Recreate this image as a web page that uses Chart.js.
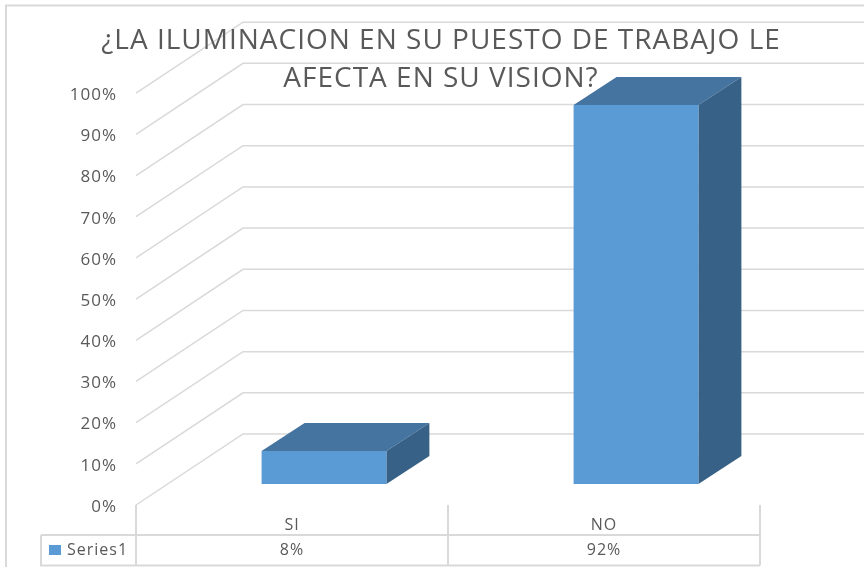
<!DOCTYPE html>
<html>
<head>
<meta charset="utf-8">
<style>html,body{margin:0;padding:0;background:#fff}canvas{display:block}</style>
<script src="https://cdn.jsdelivr.net/npm/chart.js@4"></script>
</head>
<body>
<canvas id="c" width="864" height="567"></canvas>
<script>
const titleLines = ['¿LA ILUMINACION EN SU PUESTO DE TRABAJO LE', 'AFECTA EN SU VISION?'];
const categories = ['SI', 'NO'];
const seriesName = 'Series1';
const values = [8, 92];

const FONT = '"Open Sans", sans-serif';
const TEXT = '#595959', GRID = '#d9d9d9';
const FRONT = '#5b9bd5', TOP = '#44749f', SIDE = '#376187';
const WALL = {dx: 107, dy: -71};
const BAR_SHIFT = {dx: 32, dy: -21};
const BAR_DEPTH = {dx: 43, dy: -28};

function line(ctx, pts, w) {
  ctx.beginPath();
  pts.forEach((p, i) => i ? ctx.lineTo(p[0], p[1]) : ctx.moveTo(p[0], p[1]));
  ctx.lineWidth = w; ctx.strokeStyle = GRID; ctx.stroke();
}
function poly(ctx, pts, fill) {
  ctx.beginPath();
  pts.forEach((p, i) => i ? ctx.lineTo(p[0], p[1]) : ctx.moveTo(p[0], p[1]));
  ctx.closePath(); ctx.fillStyle = fill; ctx.fill();
}

const chart3d = {
  id: 'chart3d',
  afterLayout(chart) {
    chart.titleBlock.left = 41;
    chart.titleBlock.right = 841;
    chart.titleBlock.top += 5;
  },
  beforeDraw(chart) {
    const ctx = chart.ctx, y = chart.scales.y, x = chart.scales.x, a = chart.chartArea;
    ctx.letterSpacing = '1px';
    ctx.save();
    line(ctx, [[6, 567], [6, 5.5], [864, 5.5]], 2);
    y.ticks.forEach(t => {
      const py = y.getPixelForValue(t.value);
      line(ctx, [[a.left, py], [a.left + WALL.dx, py + WALL.dy], [864, py + WALL.dy]], 1.5);
    });
    // data table
    const top = a.bottom, mid = 535, bot = 565.5;
    line(ctx, [[41, mid], [a.right, mid]], 2);
    line(ctx, [[41, mid], [41, bot], [a.right, bot]], 2);
    line(ctx, [[a.left, top], [a.left, bot]], 2);
    categories.forEach((c, i) => {
      const px = x.getPixelForValue(i) + (x.getPixelForValue(1) - x.getPixelForValue(0)) / 2;
      line(ctx, [[px, top], [px, bot]], 2);
    });
    ctx.fillStyle = FRONT; ctx.fillRect(49, 545, 12, 10);
    ctx.fillStyle = TEXT; ctx.font = '16px ' + FONT; ctx.textBaseline = 'middle';
    ctx.textAlign = 'left'; ctx.fillText(seriesName, 67, 550);
    ctx.textAlign = 'center';
    values.forEach((v, i) => ctx.fillText(v + '%', x.getPixelForValue(i), 550));
    ctx.restore();
  },
  beforeDatasetsDraw(chart) {
    const ctx = chart.ctx;
    ctx.save();
    chart.getDatasetMeta(0).data.forEach(b => {
      const l = b.x - b.width / 2 + BAR_SHIFT.dx, r = b.x + b.width / 2 + BAR_SHIFT.dx;
      const t = b.y + BAR_SHIFT.dy, u = b.base + BAR_SHIFT.dy;
      poly(ctx, [[l, t], [r, t], [r + BAR_DEPTH.dx, t + BAR_DEPTH.dy], [l + BAR_DEPTH.dx, t + BAR_DEPTH.dy]], TOP);
      poly(ctx, [[r, t], [r + BAR_DEPTH.dx, t + BAR_DEPTH.dy], [r + BAR_DEPTH.dx, u + BAR_DEPTH.dy], [r, u]], SIDE);
    });
    ctx.restore();
    ctx.save();
    ctx.translate(BAR_SHIFT.dx, BAR_SHIFT.dy);
  },
  afterDatasetsDraw(chart) {
    chart.ctx.restore();
  }
};

new Chart(document.getElementById('c'), {
  type: 'bar',
  data: {
    labels: categories,
    datasets: [{
      label: seriesName,
      data: values,
      backgroundColor: FRONT,
      borderWidth: 0,
      barPercentage: 0.4,
      categoryPercentage: 1,
      clip: false
    }]
  },
  plugins: [chart3d],
  options: {
    responsive: false,
    animation: false,
    layout: {padding: {left: 0, right: 104, top: 0, bottom: 0}},
    plugins: {
      legend: {display: false},
      tooltip: {enabled: false},
      title: {
        display: true,
        text: titleLines,
        color: TEXT,
        fullSize: false,
        font: {family: FONT, size: 28, weight: 'normal', lineHeight: 1.36},
        padding: {top: 17, bottom: 0}
      }
    },
    scales: {
      x: {
        grid: {display: false},
        border: {display: false},
        ticks: {color: TEXT, font: {family: FONT, size: 16}, padding: 3, maxRotation: 0},
        afterFit(s) { s.height = 62; }
      },
      y: {
        min: 0, max: 100,
        grid: {display: false, drawTicks: false},
        border: {display: false},
        ticks: {
          stepSize: 10, padding: 19, color: TEXT, labelOffset: 2,
          font: {family: FONT, size: 17},
          callback: v => v + '%'
        },
        afterFit(s) { s.width = 136; }
      }
    }
  }
});
</script>
</body>
</html>
